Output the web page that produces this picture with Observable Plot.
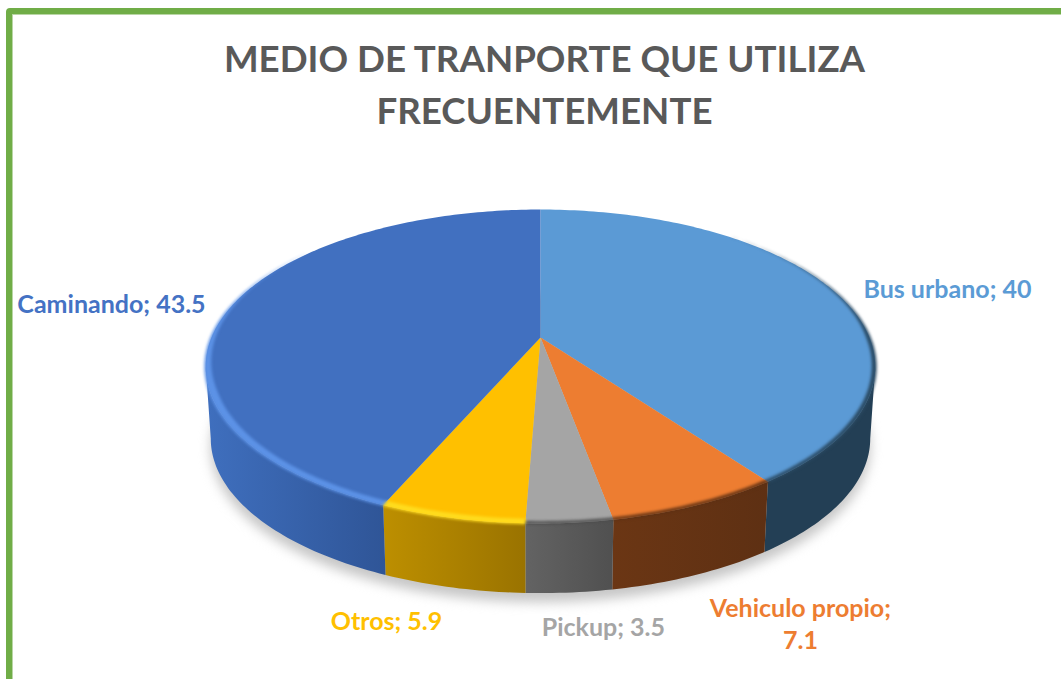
<!DOCTYPE html>
<html lang="es">
<head>
<meta charset="utf-8">
<script src="https://cdn.jsdelivr.net/npm/d3@7"></script>
<script src="https://cdn.jsdelivr.net/npm/@observablehq/plot@0.6"></script>
<style>
  html, body { margin: 0; padding: 0; background: #fff; overflow: hidden; }
  #page { position: relative; width: 1061px; height: 679px; overflow: hidden; background: #fff; font-family: Lato, "Open Sans", sans-serif; }
  #frame { position: absolute; left: 6px; top: 8px; width: 2000px; height: 2000px; box-sizing: border-box; border: 6px solid #70ad47; border-radius: 4px; box-shadow: inset 1px 1px 0 #b9d6a5; }
  #title { position: absolute; left: 0; top: 32px; width: 1089px; margin: 0; text-align: center; color: #595959; font-size: 36.7px; line-height: 52px; font-weight: 700; }
  #chart { position: absolute; left: 0; top: 140px; }
  #chart svg { display: block; background: transparent; overflow: visible; max-width: none; }
</style>
</head>
<body>
<div id="page">
  <div id="frame"></div>
  <h1 id="title">MEDIO DE TRANPORTE QUE UTILIZA<br>FRECUENTEMENTE</h1>
  <div id="chart"></div>
</div>
<script>
const categories = ["Bus urbano", "Vehiculo propio", "Pickup", "Otros", "Caminando"];
const shares = [40, 7.1, 3.5, 5.9, 43.5];

// Styling
const faceColors = ["#5b9ad5", "#ed7d31", "#a5a5a5", "#ffc000", "#4170c0"];
const textColors = ["#5b9bd5", "#ed7d31", "#a5a5a5", "#ffc000", "#4472c4"];
const rimColors = ["#2a4a63", "#5e3013", "#4c4c4c", "#ffdc1e", "#5c92e6"];
const wallStops = [["#233f55", "#233f55"], ["#6b3614", "#5e3013"], ["#636363", "#505050"], ["#bd8f00", "#9a7300"], ["#3f6fbe", "#2f5597"]];
const labelX = [1.237, 0.79, 0.191, -0.468, -1.304];
const labelY = [-0.33, 1.88, 1.9, 1.86, -0.23];

// Camera of the tilted disc
const tilt = 0.1847;
const wallDrop = 0.478;   // wall height in y-scale units
const wallShrink = 0.985; // perspective narrowing of the lower rim
const frontFrom = 100.6, frontTo = 259.4; // visible arc of the wall, degrees
const project = (deg, r = 1) => {
  const a = deg * Math.PI / 180, X = r * Math.sin(a), Y = -r * Math.cos(a), d = 1 - tilt * Y;
  return [X / d, Y / d];
};
const arc = (from, to, r = 1, drop = 0, shrink = 1) => {
  const n = Math.max(2, Math.ceil(Math.abs(to - from)));
  return d3.range(n + 1).map(i => {
    const [x, y] = project(from + (to - from) * i / n, r);
    return {x: x * shrink, y: y * shrink + drop};
  });
};
// A rim band whose width tapers to zero over the given stretches at either end
const band = (from, to, outer, width, taperIn = 0, taperOut = 0) => {
  const inner = d3.range(Math.ceil(to - from) + 1).map(i => {
    const deg = Math.min(from + i, to);
    const w = width * Math.min(1, taperIn ? (deg - from) / taperIn : 1, taperOut ? (to - deg) / taperOut : 1);
    const [x, y] = project(deg, outer - w);
    return {x, y};
  }).reverse();
  return [...arc(from, to, outer), ...inner];
};

// Build slices from the values
let cum = 0;
const slices = categories.map((name, i) => {
  const start = cum * 3.6; cum += shares[i];
  return {name, value: shares[i], i, start, end: cum * 3.6};
});
const tag = (pts, s, fill) => pts.map(p => ({...p, key: s.name, fill}));

const faces = slices.flatMap(s => tag([{x: 0, y: 0}, ...arc(s.start, s.end)], s, faceColors[s.i]));
const walls = slices.flatMap(s => {
  const a = Math.max(s.start, frontFrom), b = Math.min(s.end, frontTo);
  if (b <= a) return [];
  return tag([...arc(a, b), ...arc(b, a, 1, wallDrop, wallShrink)], s, `url(#wall${s.i})`);
});
const rims = slices.flatMap(s => {
  const r = s.i === 0 ? band(40, s.end, 1.004, 0.014, 50, 0)
    : s.i === 4 ? band(s.start, 310, 1.004, 0.024, 0, 60)
    : s.i === 3 ? band(s.start, s.end, 1.004, 0.024)
    : band(s.start, s.end, 1.004, 0.014);
  return tag(r, s, rimColors[s.i]);
});
const shadow = arc(0, 360, 1, wallDrop + 0.06, wallShrink);
const labels = slices.map(s => ({
  text: s.name + (s.name === "Vehiculo propio" ? ";\n" : "; ") + s.value,
  x: labelX[s.i], y: labelY[s.i], fill: textColors[s.i]
}));

// Gradients for the wall sections
const defs = () => {
  const g = d3.create("svg:g");
  const d = g.append("defs");
  wallStops.forEach((st, i) => {
    const lg = d.append("linearGradient").attr("id", `wall${i}`).attr("x1", 0).attr("x2", 1).attr("y1", 0).attr("y2", 0);
    lg.append("stop").attr("offset", 0).attr("stop-color", st[0]);
    lg.append("stop").attr("offset", 1).attr("stop-color", st[1]);
  });
  return g.node();
};

const blurred = px => (index, scales, values, dims, ctx, next) => {
  const g = next(index, scales, values, dims, ctx);
  g.style.filter = `blur(${px}px)`;
  return g;
};
const polygon = (data, extra = {}) => Plot.line(data, {
  x: "x", y: "y", z: "key", fill: "fill", stroke: "none", curve: "linear-closed", ...extra
});

const chart = Plot.plot({
  width: 1061, height: 539,
  margin: 0,
  x: {domain: [-1, 1], range: [211, 869], axis: null},
  y: {domain: [-1, 1], range: [45.4, 348.6], axis: null},
  color: {type: "identity"},
  style: {background: "transparent"},
  marks: [
    defs,
    Plot.line(shadow, {x: "x", y: "y", fill: "#c6c6c6", stroke: "none", curve: "linear-closed", render: blurred(6)}),
    polygon(walls),
    polygon(faces),
    polygon(rims, {render: blurred(1.5)}),
    Plot.text(labels, {
      x: "x", y: "y", text: "text", fill: "fill",
      fontFamily: "Lato, 'Open Sans', sans-serif", fontSize: 25, fontWeight: 700, lineHeight: 1.28
    })
  ]
});
document.getElementById("chart").appendChild(chart);
</script>
</body>
</html>
